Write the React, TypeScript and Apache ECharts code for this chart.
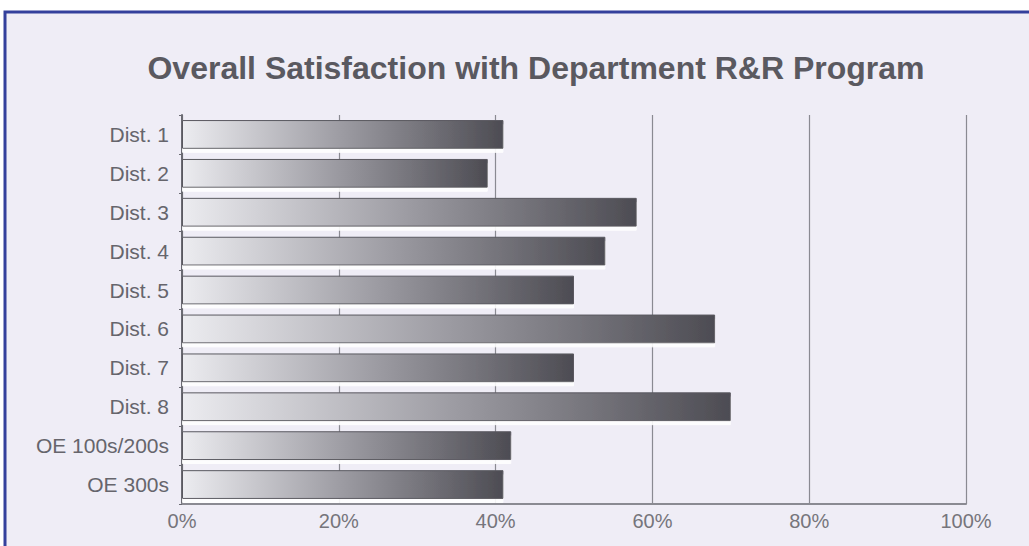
import React, { useEffect, useRef } from "react";
import * as echarts from "echarts";

const categories = ["Dist. 1", "Dist. 2", "Dist. 3", "Dist. 4", "Dist. 5", "Dist. 6", "Dist. 7", "Dist. 8", "OE 100s/200s", "OE 300s"];
const values = [41, 39, 58, 54, 50, 68, 50, 70, 42, 41];
const titleText = "Overall Satisfaction with Department R&R Program";

export default function App() {
  const ref = useRef<HTMLDivElement>(null);
  useEffect(() => {
    const chart = echarts.init(ref.current!, null, { renderer: "svg" });
    chart.setOption({
      animation: false,
      backgroundColor: "#ffffff",
      graphic: [
        {
          type: "rect",
          z: -10,
          silent: true,
          shape: { x: 5, y: 12, width: 1040, height: 560 },
          style: { fill: "#efedf6", stroke: "#34409c", lineWidth: 3 },
        },
      ],
      title: {
        text: titleText,
        left: 531,
        top: 47,
        textAlign: "center",
        textStyle: { fontFamily: "Liberation Sans, Arial, sans-serif", fontSize: 32, fontWeight: "bold", color: "#5a5960" },
      },
      grid: { left: 182, right: 1029 - 966, top: 115, bottom: 546 - 504, containLabel: false },
      xAxis: {
        type: "value",
        min: 0,
        max: 100,
        interval: 20,
        axisLine: { show: true, lineStyle: { color: "#8a8a92", width: 2 } },
        axisTick: { show: false },
        axisLabel: {
          formatter: "{value}%",
          color: "#76757c",
          fontSize: 20,
          fontFamily: "Liberation Sans, Arial, sans-serif",
          margin: 7,
        },
        splitLine: { show: true, lineStyle: { color: "#8a8a92", width: 1.2 } },
      },
      yAxis: {
        type: "category",
        data: categories,
        inverse: true,
        axisLine: { show: true, lineStyle: { color: "#6a6a72", width: 2 } },
        axisTick: { show: true, length: 3, lineStyle: { color: "#6a6a72" } },
        axisLabel: {
          color: "#66656c",
          fontSize: 21,
          fontFamily: "Liberation Sans, Arial, sans-serif",
          margin: 13,
        },
      },
      series: [
        {
          type: "bar",
          data: values,
          barCategoryGap: "26%",
          itemStyle: {
            color: new echarts.graphic.LinearGradient(0, 0, 1, 0, [
              { offset: 0, color: "#ececf0" },
              { offset: 0.5, color: "#9c9ba2" },
              { offset: 1, color: "#4d4c53" },
            ]),
            borderColor: "#5a5960",
            borderWidth: 1,
            shadowColor: "rgba(255,255,255,0.9)",
            shadowBlur: 0,
            shadowOffsetY: 4,
          },
        },
      ],
    });
    return () => chart.dispose();
  }, []);
  return (
    <div style={{ position: "absolute", left: 0, top: 0, width: 1029, height: 546 }}>
      <div ref={ref} style={{ width: 1029, height: 546 }} />
    </div>
  );
}
